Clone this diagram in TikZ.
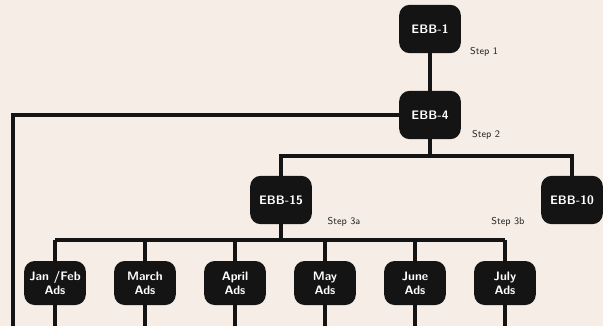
\documentclass[tikz,border=0pt]{standalone}
\usetikzlibrary{positioning, calc}
\definecolor{paper}{HTML}{F6EEE6}
\definecolor{ink}{HTML}{141414}

\begin{document}
\begin{tikzpicture}[x=0.03cm, y=-0.03cm, every node/.style={font=\small},
  screen/.style={fill=ink, rounded corners=9pt, minimum width=1.85cm,
    minimum height=1.45cm, inner sep=1pt, align=center, text=white,
    font=\sffamily\bfseries\fontsize{10.5}{12}\selectfont},
  stepnote/.style={font=\sffamily\fontsize{8.5}{10}\selectfont, text=black!85},
  wire/.style={line width=3.4pt, draw=ink}]
  \fill[paper] (0,0) rectangle (603,326);
  \useasboundingbox (0,0) rectangle (603,326);

  % editions
  \node[screen] (ebb1) at (430, 29) {EBB-1};
  \node[screen] (ebb4) at (430, 115) {EBB-4};
  \node[screen] (ebb15) at (281, 200) {EBB-15};
  \node[screen] (ebb10) at (572, 200) {EBB-10};

  \node[stepnote] (step1) at (484, 52) {Step 1};
  \node[stepnote] (step2) at (486, 135) {Step 2};
  \node[stepnote] (step3a) at (344, 222) {Step 3a};
  \node[stepnote] (step3b) at (508, 222) {Step 3b};

  \coordinate (split2) at (430, 156);
  \coordinate (split3) at (281, 240);
  \coordinate (leftend) at (13, 326);

  \draw[wire] (ebb1.south) -- (ebb4.north);
  \draw[wire] (ebb4.west) -| (leftend);
  \draw[wire] (ebb4.south) -- (split2);
  \draw[wire] (ebb15.north) |- (split2) -| (ebb10.north);
  \draw[wire] (ebb15.south) -- (split3);

  % monthly ads
  \foreach \nm/\txt [count=\i from 0] in {janfeb/{Jan /Feb}, march/March,
      april/April, may/May, june/June, july/July}
  {
    \node[screen, minimum height=1.32cm] (\nm) at (55+90*\i, 283) {\txt\\Ads};
    \coordinate (\nm end) at (55+90*\i, 326);
    \draw[wire] (\nm.south) -- (\nm end);
    \draw[wire] (\nm.north) -- (\nm.north |- split3);
  }
  \draw[wire] (janfeb.north |- split3) -- (july.north |- split3);
\end{tikzpicture}
\end{document}
